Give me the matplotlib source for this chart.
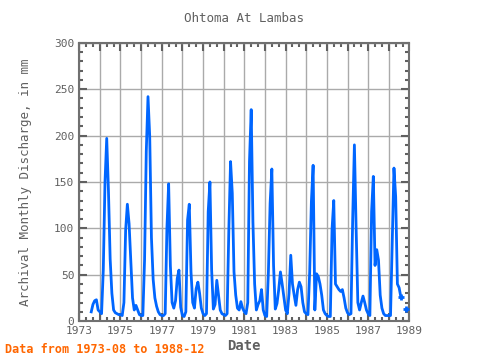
import numpy as np
import matplotlib
matplotlib.use("Agg")
import matplotlib.pyplot as plt
from matplotlib.ticker import MultipleLocator, FuncFormatter

# monthly discharge (mm), Jan..Dec
first_year = 1973
first_month = 8
q1973 = [10, 18, 22, 23, 12]  # Aug-Dec
q1974 = [10, 8, 55, 150, 197, 141, 67, 30, 12, 9, 8, 7]
q1975 = [7, 6, 20, 98, 126, 105, 64, 25, 12, 17, 12, 7]
q1976 = [6, 6, 66, 183, 242, 199, 90, 45, 25, 16, 10, 7]
q1977 = [6, 6, 8, 100, 148, 60, 20, 14, 22, 46, 55, 15]
q1978 = [6, 5, 10, 109, 126, 53, 20, 14, 35, 42, 30, 14]
q1979 = [8, 6, 8, 118, 150, 55, 13, 18, 44, 28, 12, 8]
q1980 = [7, 6, 8, 99, 172, 138, 53, 28, 14, 12, 21, 14]
q1981 = [10, 8, 20, 172, 228, 107, 40, 12, 18, 22, 34, 12]
q1982 = [6, 5, 53, 127, 164, 60, 13, 19, 34, 53, 40, 26]
q1983 = [12, 8, 30, 71, 40, 28, 17, 34, 42, 37, 20, 10]
q1984 = [8, 7, 53, 129, 168, 12, 51, 48, 40, 28, 12, 8]
q1985 = [6, 5, 5, 99, 130, 40, 37, 34, 32, 34, 25, 14]
q1986 = [9, 7, 8, 110, 190, 100, 20, 12, 20, 27, 20, 12]
q1987 = [8, 6, 118, 156, 60, 77, 66, 28, 14, 8, 6, 6]
q1988 = [6, 6, 88, 165, 134, 40, 36, 26, np.nan, np.nan, 13, np.nan]

values = np.array(q1973 + q1974 + q1975 + q1976 + q1977 + q1978 + q1979 + q1980
                  + q1981 + q1982 + q1983 + q1984 + q1985 + q1986 + q1987 + q1988)
dates = first_year + (first_month - 1 + np.arange(len(values))) / 12.0

# mark points that sit just before a gap (incl. the lonely one)
nxt = np.concatenate([values[1:], [np.nan]])
gap_end = ~np.isnan(values) & np.isnan(nxt)

grey = "#606060"
plt.rcParams["font.family"] = ["DejaVu Sans Mono"]

fig = plt.figure(figsize=(4.8, 3.6), dpi=100)
ax = fig.add_axes([0.165, 0.108, 0.688, 0.773])

ax.plot(dates, values, color="#0066ff", lw=2, zorder=3)
ax.plot(dates[gap_end], values[gap_end], ls="none", marker="+",
        color="#0066ff", ms=4, mew=2, zorder=3)

ax.set_xlim(1973, 1989)
ax.set_ylim(0, 300)
ax.xaxis.set_major_locator(MultipleLocator(1))
ax.xaxis.set_minor_locator(MultipleLocator(1 / 3))
ax.xaxis.set_major_formatter(FuncFormatter(lambda v, p: "%d" % v if int(round(v)) % 2 == 1 else ""))
ax.yaxis.set_major_locator(MultipleLocator(50))
ax.yaxis.set_minor_locator(MultipleLocator(10))

ax.grid(True, which="major", color="#aaaaaa", lw=1)
ax.tick_params(which="both", direction="in", top=True, right=True, colors=grey, labelsize=8)
ax.tick_params(which="major", length=6, width=1.5)
ax.tick_params(which="minor", length=3, width=1.5)
for s in ax.spines.values():
    s.set_color("#707070")
    s.set_linewidth(1.5)

ax.set_title("Ohtoma At Lambas", fontsize=9, color=grey, pad=15)
ax.set_xlabel("Date", fontsize=10, color=grey, fontweight="bold", labelpad=2)
ax.set_ylabel("Archival Monthly Discharge, in mm", fontsize=9, color=grey, labelpad=16)
fig.text(0.01, 0.02, "Data from 1973-08 to 1988-12", color="#ff6600", fontsize=8.5, fontweight="bold")

fig.savefig("out.png", dpi=100)
